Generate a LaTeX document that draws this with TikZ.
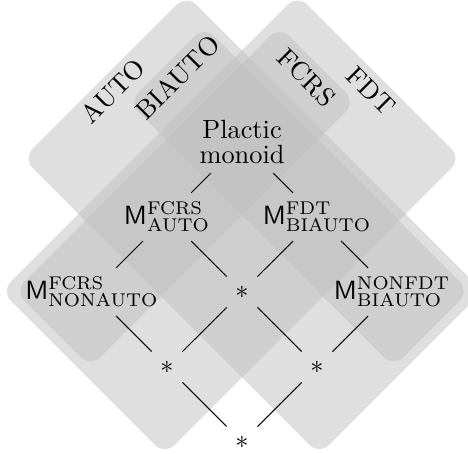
\documentclass[tikz,border=0pt]{standalone}
\begin{document}
\begin{tikzpicture}[
  region/.style={fill=gray!50, fill opacity=0.5, rounded corners=0.18cm},
  setlabel/.style={inner sep=0pt},
  conn/.style={draw=black, line width=0.4pt}
  ]
\useasboundingbox (-3.227,1.893) rectangle (3.013,-4.16);
\clip (-3.227,1.893) rectangle (3.013,-4.16);
\begin{scope}[x={(-1cm,-1cm)}, y={(1cm,-1cm)}]
  % AUTO
  \path[region] (-0.61,-1.35) -- (-0.61,2.6) -- (1.57,2.6) -- (1.57,-1.35) -- cycle;
  % BIAUTO
  \path[region] (-0.52,-1.02) -- (-0.52,2.51) -- (0.49,2.51) -- (0.49,-1.02) -- cycle;
  % FDT
  \path[region] (-1.35,-0.61) -- (2.6,-0.61) -- (2.6,1.57) -- (-1.35,1.57) -- cycle;
  % FCRS
  \path[region] (-1.02,-0.52) -- (2.51,-0.52) -- (2.51,0.49) -- (-1.02,0.49) -- cycle;
  \node[setlabel, rotate=45] (lauto) at (0.52,-1.2) {AUTO};
  \node[setlabel, rotate=45] (lbiauto) at (0,-0.86) {BIAUTO};
  \node[setlabel, rotate=-45] (lfdt) at (-1.2,0.52) {FDT};
  \node[setlabel, rotate=-45] (lfcrs) at (-0.86,0) {FCRS};
\end{scope}
\node[align=center] (pm) at (0,0) {Plactic\\[-2.5pt]monoid};
\node (fa) at (-1,-1) {$\mathsf{M}^{\mathrm{FCRS}}_{\mathrm{AUTO}}$};
\node (fb) at (1,-1) {$\mathsf{M}^{\mathrm{FDT}}_{\mathrm{BIAUTO}}$};
\node (fn) at (-2,-2) {$\mathsf{M}^{\mathrm{FCRS}}_{\mathrm{NONAUTO}}$};
\node (s1) at (0,-2) {$*$};
\node (nb) at (2,-2) {$\mathsf{M}^{\mathrm{NONFDT}}_{\mathrm{BIAUTO}}$};
\node (s2) at (-1,-3) {$*$};
\node (s3) at (1,-3) {$*$};
\node (s4) at (0,-4) {$*$};
\draw[conn] (pm) -- (fa);
\draw[conn] (pm) -- (fb);
\draw[conn] (fa) -- (fn);
\draw[conn] (fa) -- (s1);
\draw[conn] (fb) -- (s1);
\draw[conn] (fb) -- (nb);
\draw[conn] (fn) -- (s2);
\draw[conn] (s1) -- (s2);
\draw[conn] (s1) -- (s3);
\draw[conn] (nb) -- (s3);
\draw[conn] (s2) -- (s4);
\draw[conn] (s3) -- (s4);
\end{tikzpicture}
\end{document}
